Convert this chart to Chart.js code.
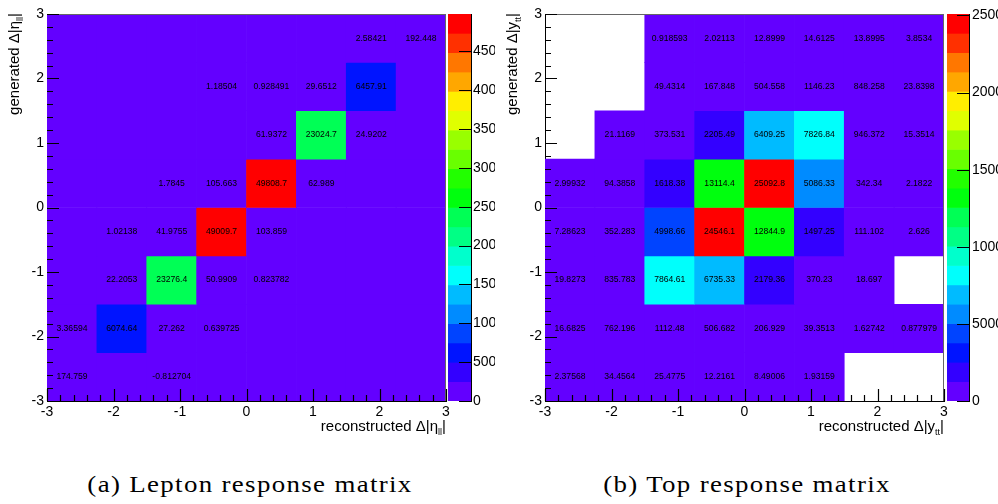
<!DOCTYPE html>
<html>
<head>
<meta charset="utf-8">
<script src="https://cdn.jsdelivr.net/npm/chart.js@4.4.1/dist/chart.umd.min.js"></script>
<style>
  body { margin: 0; background: #fff; overflow: hidden; }
  #page { position: relative; width: 998px; height: 504px; overflow: hidden; }
  canvas { position: absolute; top: 0; }
  .caption {
    position: absolute; top: 471px;
    font-family: "Liberation Serif", serif; font-size: 24px; color: #000;
    letter-spacing: 1.2px; white-space: nowrap;
    transform: translateX(-50%) scaleX(1.12);
  }
</style>
</head>
<body>
<div id="page">
  <canvas id="leptonMatrix" width="460" height="440" style="left:0px"></canvas>
  <canvas id="leptonScale" width="47" height="440" style="left:448px"></canvas>
  <canvas id="topMatrix" width="460" height="440" style="left:498px"></canvas>
  <canvas id="topScale" width="51" height="440" style="left:947px"></canvas>
  <div class="caption" style="left:250px">(a) Lepton response matrix</div>
  <div class="caption" style="left:747px">(b) Top response matrix</div>
</div>
<script>
// bin edges used for both generated and reconstructed axes
const binEdges = [-3, -2.25, -1.5, -0.75, 0, 0.75, 1.5, 2.25, 3];
const axisTicks = [-3, -2, -1, 0, 1, 2, 3];
const minorDivisions = 5;
const nContours = 20;

// rows = generated bins (bottom to top), columns = reconstructed bins (left to right)
const leptonCounts = [
  [174.759, 0, -0.812704, 0, 0, 0, 0, 0],
  [3.36594, 6074.64, 27.262, 0.639725, 0, 0, 0, 0],
  [0, 22.2053, 23276.4, 50.9909, 0.823782, 0, 0, 0],
  [0, 1.02138, 41.9755, 49009.7, 103.859, 0, 0, 0],
  [0, 0, 1.7845, 105.663, 49808.7, 62.989, 0, 0],
  [0, 0, 0, 0, 61.9372, 23024.7, 24.9202, 0],
  [0, 0, 0, 1.18504, 0.928491, 29.6512, 6457.91, 0],
  [0, 0, 0, 0, 0, 0, 2.58421, 192.448]
];

const topCounts = [
  [2.37568, 34.4564, 25.4775, 12.2161, 8.49006, 1.93159, 0, 0],
  [16.6825, 762.196, 1112.48, 506.682, 206.929, 39.3513, 1.62742, 0.877979],
  [19.8273, 835.783, 7864.61, 6735.33, 2179.36, 370.23, 18.697, 0],
  [7.28623, 352.283, 4998.66, 24546.1, 12844.9, 1497.25, 111.102, 2.626],
  [2.99932, 94.3858, 1618.38, 13114.4, 25092.8, 5086.33, 342.34, 2.1822],
  [0, 21.1169, 373.531, 2205.49, 6409.25, 7826.84, 946.372, 15.3514],
  [0, 0, 49.4314, 167.848, 504.558, 1146.23, 848.258, 23.8398],
  [0, 0, 0.918593, 2.02113, 12.8999, 14.6125, 13.8995, 3.8534]
];

const leptonScaleTicks = [0, 5000, 10000, 15000, 20000, 25000, 30000, 35000, 40000, 45000];
const topScaleTicks = [0, 5000, 10000, 15000, 20000, 25000];

const leptonXTitle = [['reconstructed \u0394|\u03b7', false], ['ll', true], ['|', false]];
const leptonYTitle = [['generated \u0394|\u03b7', false], ['ll', true], ['|', false]];
const topXTitle = [['reconstructed \u0394|y', false], ['tt', true], ['|', false]];
const topYTitle = [['generated \u0394|y', false], ['tt', true], ['|', false]];

const FONT = 'Liberation Sans';

// rainbow palette: 50 hues from violet to red, 20 contour levels picked from it
function contourColor(k) {
  const ci = Math.floor((k + 0.99) * 50 / nContours);
  const hue = 280 - (ci + 1) * 5.6;
  return `hsl(${hue}, 100%, 50%)`;
}

function zRange(counts) {
  const flat = counts.flat();
  return [Math.min(...flat), Math.max(...flat)];
}

function drawTitle(ctx, parts, x, y, vertical) {
  const mainFont = `15px "${FONT}"`;
  const subFont = `9px "${FONT}"`;
  let total = 0;
  parts.forEach(([t, sub]) => {
    ctx.font = sub ? subFont : mainFont;
    total += ctx.measureText(t).width;
  });
  ctx.save();
  ctx.translate(x, y);
  if (vertical) ctx.rotate(-Math.PI / 2);
  ctx.fillStyle = '#000';
  ctx.textAlign = 'left';
  ctx.textBaseline = 'alphabetic';
  let pos = -total;
  parts.forEach(([t, sub]) => {
    ctx.font = sub ? subFont : mainFont;
    ctx.fillText(t, pos, sub ? 4 : 0);
    pos += ctx.measureText(t).width;
  });
  ctx.restore();
}

// thin frame on top/right, inward major/minor tick marks on left/bottom
function drawFrame(chart) {
  const ctx = chart.ctx;
  const a = chart.chartArea;
  const xs = chart.scales.xv;
  const ys = chart.scales.y;
  ctx.save();
  ctx.lineWidth = 1;
  ctx.strokeStyle = '#666';
  ctx.beginPath();
  ctx.moveTo(a.left, a.top + 0.5);
  ctx.lineTo(a.right - 0.5, a.top + 0.5);
  ctx.lineTo(a.right - 0.5, a.bottom);
  ctx.stroke();

  ctx.strokeStyle = '#000';
  ctx.lineWidth = 1.2;
  ctx.beginPath();
  for (let i = 0; i < axisTicks.length; i++) {
    const last = i === axisTicks.length - 1;
    const step = last ? 0 : (axisTicks[i + 1] - axisTicks[i]) / minorDivisions;
    const count = last ? 1 : minorDivisions;
    for (let j = 0; j < count; j++) {
      const v = axisTicks[i] + j * step;
      const len = j === 0 ? 12 : 6;
      const px = Math.round(xs.getPixelForValue(v)) + 0.5;
      ctx.moveTo(px, a.bottom);
      ctx.lineTo(px, a.bottom - len);
      const py = Math.round(ys.getPixelForValue(v)) + 0.5;
      ctx.moveTo(a.left, py);
      ctx.lineTo(a.left + len, py);
    }
  }
  ctx.stroke();
  ctx.restore();
}

// bin content printed in each filled cell
function drawCellText(chart) {
  const ctx = chart.ctx;
  const meta = chart.getDatasetMeta(0);
  const data = chart.data.datasets[0].data;
  ctx.save();
  ctx.font = `8.6px "${FONT}"`;
  ctx.fillStyle = '#000';
  ctx.textAlign = 'center';
  ctx.textBaseline = 'middle';
  meta.data.forEach((bar, i) => {
    const v = data[i].v;
    if (v === 0) return;
    ctx.fillText(String(v), bar.x, (bar.y + bar.base) / 2);
  });
  ctx.restore();
}

function axisTickOptions() {
  return {
    padding: 3,
    color: '#000',
    font: { family: FONT, size: 14 },
    maxRotation: 0,
    autoSkip: false,
    callback: v => String(v)
  };
}

function drawMatrix(canvasId, counts, xTitle, yTitle) {
  const [zmin, zmax] = zRange(counts);
  const cells = [];
  const colors = [];
  counts.forEach((row, iy) => row.forEach((v, ix) => {
    // empty bins are left blank unless the z range goes below zero
    if (v === 0 && zmin >= 0) return;
    const k = Math.min(nContours - 1, Math.floor((v - zmin) / (zmax - zmin) * nContours + 0.01));
    cells.push({ x: String(ix), y: [binEdges[iy], binEdges[iy + 1]], v });
    colors.push(contourColor(k));
  }));

  const decorations = {
    id: 'decorations',
    afterDraw(chart) {
      const a = chart.chartArea;
      drawCellText(chart);
      drawFrame(chart);
      drawTitle(chart.ctx, xTitle, a.right, 431, false);
      drawTitle(chart.ctx, yTitle, a.left - 28, a.top - 1, true);
    }
  };

  new Chart(document.getElementById(canvasId), {
    type: 'bar',
    data: {
      labels: binEdges.slice(0, -1).map((_, i) => String(i)),
      datasets: [{
        data: cells,
        backgroundColor: colors,
        borderWidth: 0,
        grouped: false,
        categoryPercentage: 1,
        barPercentage: 1,
        xAxisID: 'x',
        yAxisID: 'y'
      }]
    },
    options: {
      responsive: false,
      animation: false,
      events: [],
      layout: { padding: { top: 14, right: 14 } },
      plugins: { legend: { display: false }, tooltip: { enabled: false } },
      scales: {
        x: { display: false },
        xv: {
          type: 'linear', position: 'bottom', min: -3, max: 3, offset: false,
          afterBuildTicks: s => { s.ticks = axisTicks.map(value => ({ value })); },
          afterFit: s => { s.height = 39; },
          grid: { display: false, drawTicks: false, offset: false },
          border: { color: '#000', width: 1 },
          ticks: axisTickOptions()
        },
        y: {
          type: 'linear', min: -3, max: 3,
          afterBuildTicks: s => { s.ticks = axisTicks.map(value => ({ value })); },
          afterFit: s => { s.width = 47; },
          grid: { display: false, drawTicks: false },
          border: { color: '#000', width: 1 },
          ticks: axisTickOptions()
        }
      }
    },
    plugins: [decorations]
  });
}

// colour scale: one floating bar per contour level
function drawScale(canvasId, counts, scaleTicks, axisWidth, labelPad) {
  const [zmin, zmax] = zRange(counts);
  const step = (zmax - zmin) / nContours;
  const bands = [];
  const colors = [];
  for (let k = 0; k < nContours; k++) {
    bands.push({ x: 'z', y: [zmin + k * step, zmin + (k + 1) * step] });
    colors.push(contourColor(k));
  }

  const inwardTicks = {
    id: 'inwardTicks',
    afterDraw(chart) {
      const ctx = chart.ctx;
      const a = chart.chartArea;
      const ys = chart.scales.y;
      ctx.save();
      ctx.strokeStyle = '#000';
      ctx.lineWidth = 1.2;
      ctx.beginPath();
      scaleTicks.forEach(v => {
        const py = Math.round(ys.getPixelForValue(v)) + 0.5;
        ctx.moveTo(a.right - 12, py);
        ctx.lineTo(a.right, py);
      });
      ctx.stroke();
      ctx.restore();
    }
  };

  new Chart(document.getElementById(canvasId), {
    type: 'bar',
    data: {
      labels: ['z'],
      datasets: [{
        data: bands,
        backgroundColor: colors,
        borderWidth: 0,
        grouped: false,
        categoryPercentage: 1,
        barPercentage: 1
      }]
    },
    options: {
      responsive: false,
      animation: false,
      events: [],
      layout: { padding: { top: 14, bottom: 39 } },
      plugins: { legend: { display: false }, tooltip: { enabled: false } },
      scales: {
        x: { display: false },
        y: {
          position: 'right', min: zmin, max: zmax,
          afterBuildTicks: s => { s.ticks = scaleTicks.map(value => ({ value })); },
          afterFit: s => { s.width = axisWidth; },
          grid: { display: false, drawTicks: false },
          border: { color: '#000', width: 1 },
          ticks: { padding: labelPad, color: '#000', font: { family: FONT, size: 14 }, callback: v => String(v) }
        }
      }
    },
    plugins: [inwardTicks]
  });
}

drawMatrix('leptonMatrix', leptonCounts, leptonXTitle, leptonYTitle);
drawScale('leptonScale', leptonCounts, leptonScaleTicks, 24, 2);
drawMatrix('topMatrix', topCounts, topXTitle, topYTitle);
drawScale('topScale', topCounts, topScaleTicks, 29, 3);
</script>
</body>
</html>
